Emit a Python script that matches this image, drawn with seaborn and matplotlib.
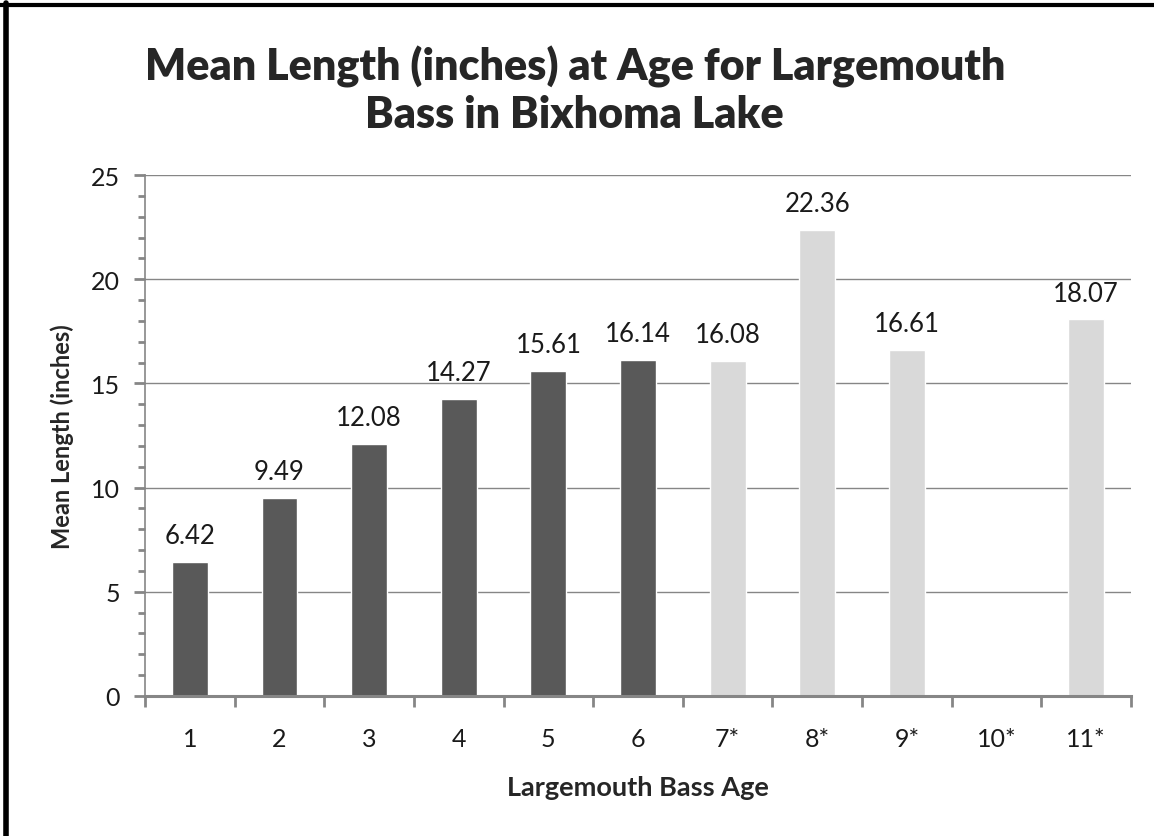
import numpy as np
import pandas as pd
import matplotlib
matplotlib.use("Agg")
import matplotlib.pyplot as plt
from matplotlib.lines import Line2D
from matplotlib.ticker import MultipleLocator
import seaborn as sns

ages = ['1', '2', '3', '4', '5', '6', '7*', '8*', '9*', '10*', '11*']
mean_length = [6.42, 9.49, 12.08, 14.27, 15.61, 16.14, 16.08, 22.36, 16.61, np.nan, 18.07]
group = ['full'] * 6 + ['small'] * 5
colors = {'full': '#595959', 'small': '#d9d9d9'}

df = pd.DataFrame({'age': ages, 'length': mean_length, 'group': group}).dropna()

sns.set_style('white')
plt.rcParams['font.family'] = ['Lato', 'DejaVu Sans']

fig = plt.figure(figsize=(11.54, 8.37), dpi=100)
ax = fig.add_axes([0.1257, 0.1673, 0.8543, 0.6224])

sns.barplot(data=df, x='age', y='length', hue='group', order=ages,
            palette=colors, dodge=False, width=0.4, legend=False, ax=ax,
            saturation=1)

for c in ax.containers:
    ax.bar_label(c, fmt='%.2f', padding=10, fontsize=18.5, color='#1a1a1a')

grid_col = '#868686'
ax.set_ylim(0, 25)
ax.set_xlim(-0.5, len(ages) - 0.5)
ax.yaxis.set_major_locator(MultipleLocator(5))
ax.yaxis.set_minor_locator(MultipleLocator(1))
ax.set_xticks(np.arange(-0.5, len(ages), 1), minor=True)
ax.tick_params(axis='x', which='major', length=0, pad=22, labelsize=18, labelcolor='#1a1a1a')
ax.tick_params(axis='x', which='minor', length=8, width=2, color=grid_col, bottom=True)
ax.tick_params(axis='y', which='major', length=8, width=2, color=grid_col, pad=10,
               labelsize=18, labelcolor='#1a1a1a', left=True)
ax.tick_params(axis='y', which='minor', length=5, width=2, color=grid_col, left=True)
ax.yaxis.grid(True, which='major', color=grid_col, linewidth=1)
ax.set_axisbelow(True)

for s in ['top', 'right']:
    ax.spines[s].set_visible(False)
ax.spines['left'].set_color(grid_col)
ax.spines['left'].set_linewidth(1.2)
ax.spines['bottom'].set_color(grid_col)
ax.spines['bottom'].set_linewidth(2.2)

ax.set_xlabel('Largemouth Bass Age', fontsize=19.5, fontweight='bold', labelpad=18)
ax.set_ylabel('Mean Length (inches)', fontsize=17, fontweight='bold', labelpad=12)

fig.text(0.498, 0.892, 'Mean Length (inches) at Age for Largemouth\nBass in Bixhoma Lake',
         ha='center', va='center', fontsize=31, fontweight='heavy', linespacing=1.2)

# frame lines at top and left
fig.add_artist(Line2D([0, 1], [1 - 5.5 / 837, 1 - 5.5 / 837], color='black', linewidth=3,
                      transform=fig.transFigure))
fig.add_artist(Line2D([6 / 1154, 6 / 1154], [0, 1 - 4 / 837], color='black', linewidth=4,
                      transform=fig.transFigure))

fig.savefig('out.png', dpi=100, facecolor='white')
